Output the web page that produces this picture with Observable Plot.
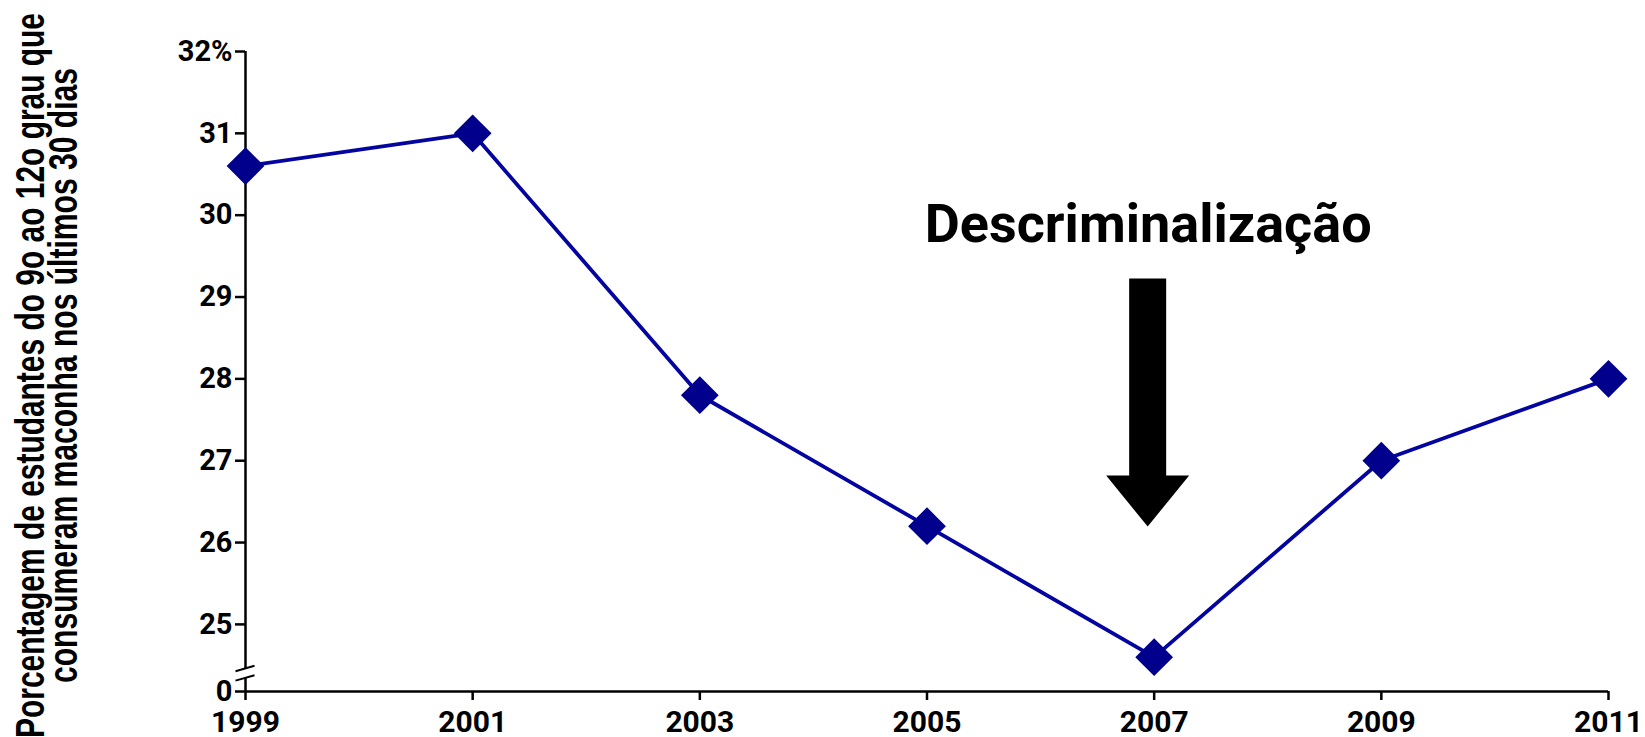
<!DOCTYPE html>
<html><head><meta charset="utf-8">
<script src="https://cdn.jsdelivr.net/npm/d3@7"></script>
<script src="https://cdn.jsdelivr.net/npm/@observablehq/plot@0.6"></script>
<style>
html,body{margin:0;padding:0;background:#fff;overflow:hidden;}
#chart{width:1645px;height:737px;}
</style></head><body><div id="chart"></div>
<script>
// ---- data ----
const years = [1999, 2001, 2003, 2005, 2007, 2009, 2011];
const usePct = [30.6, 31.0, 27.8, 26.2, 24.6, 27.0, 28.0];
const xTickValues = [1999, 2001, 2003, 2005, 2007, 2009, 2011];
const yTickValues = [0, 25, 26, 27, 28, 29, 30, 31, 32];
const yAxisFloor = 24.18;   // value sitting on the x-axis (broken axis, labelled "0")
const yAxisTop = 32;
const breakMarks = [{year: 1999, upper: 24.455, lower: 24.34}];
const annotation = [{year: 2007, label: "Descriminalização", y: 29.67, arrowTop: 29.22, arrowTip: 26.19}];
const yLabelLines = ["Porcentagem de estudantes do 9o ao 12o grau que", "consumeram maconha nos últimos 30 dias"];

const data = years.map((yr, i) => ({year: yr, value: usePct[i]}));
const toAxis = v => v === 0 ? yAxisFloor : v;
const FONT = "Roboto, 'Noto Sans', sans-serif";
const LABEL_FONT = "'Liberation Sans', Arial, sans-serif";

function breakMark(index, scales) {
  const g = d3.create("svg:g");
  for (const b of breakMarks) {
    const cx = scales.x(b.year);
    for (const v of [b.upper, b.lower]) {
      const cy = scales.y(v);
      g.append("line").attr("x1", cx - 9.5).attr("y1", cy + 2.7)
        .attr("x2", cx + 9.5).attr("y2", cy - 2.7)
        .attr("stroke", "black").attr("stroke-width", 2);
    }
  }
  return g.node();
}

function arrowMark(index, scales) {
  const g = d3.create("svg:g");
  for (const a of annotation) {
    const cx = scales.x(a.year) - 6;
    const top = scales.y(a.arrowTop), tip = scales.y(a.arrowTip);
    const headH = 51, shaftW = 18.5, headW = 41.5;
    const p = d3.path();
    p.moveTo(cx - shaftW, top); p.lineTo(cx + shaftW, top);
    p.lineTo(cx + shaftW, tip - headH); p.lineTo(cx + headW, tip - headH);
    p.lineTo(cx, tip); p.lineTo(cx - headW, tip - headH);
    p.lineTo(cx - shaftW, tip - headH); p.closePath();
    g.append("path").attr("d", p.toString()).attr("fill", "black");
  }
  return g.node();
}

const chart = Plot.plot({
  width: 1645,
  height: 737,
  marginLeft: 245,
  marginRight: 37,
  marginTop: 51,
  marginBottom: 46,
  style: {fontFamily: FONT, background: "white"},
  x: {domain: [1999, 2011]},
  y: {domain: [yAxisFloor, yAxisTop]},
  marks: [
    // axis lines
    Plot.ruleY([yAxisFloor], {stroke: "black", strokeWidth: 2.5}),
    Plot.ruleX(breakMarks, {x: "year", y1: "upper", y2: yAxisTop, stroke: "black", strokeWidth: 2.5}),
    Plot.ruleX(breakMarks, {x: "year", y1: yAxisFloor, y2: "lower", stroke: "black", strokeWidth: 2.5}),
    breakMark,
    Plot.axisX(xTickValues, {tickFormat: "d", tickSize: 9, tickPadding: 10, fontSize: 30, fontWeight: "bold", strokeWidth: 2.5, label: null, fill: "black"}),
    Plot.axisY(yTickValues.map(toAxis), {
      tickFormat: d => d === yAxisFloor ? "0" : d === yAxisTop ? d + "%" : String(d),
      tickSize: 10, tickPadding: 3, fontSize: 29, fontWeight: "bold", strokeWidth: 2.5, label: null, fill: "black"
    }),
    // y label (two lines)
    Plot.text([yLabelLines[0]], {text: d => d, frameAnchor: "left", rotate: -90, textAnchor: "middle", lineAnchor: "bottom", dx: -202, dy: 4, fontSize: 40, fontWeight: "bold", fontFamily: LABEL_FONT, fill: "black"}),
    Plot.text([yLabelLines[1]], {text: d => d, frameAnchor: "left", rotate: -90, textAnchor: "middle", lineAnchor: "bottom", dx: -169, dy: 4, fontSize: 40, fontWeight: "bold", fontFamily: LABEL_FONT, fill: "black"}),
    // data
    Plot.line(data, {x: "year", y: "value", stroke: "#0404a0", strokeWidth: 3.8}),
    Plot.dot(data, {x: "year", y: "value", symbol: "diamond2", r: 17, fill: "#00008c", stroke: "none"}),
    // annotation
    Plot.text(annotation, {x: "year", y: "y", text: "label", dx: -6, lineAnchor: "bottom", fontSize: 54, fontWeight: "bold", fill: "black"}),
    arrowMark
  ]
});
document.getElementById("chart").appendChild(chart);

// squeeze the y label to the reference's length
const lengths = [725, 615];
d3.select(chart).selectAll("text").each(function () {
  const idx = yLabelLines.indexOf(this.textContent);
  if (idx >= 0) {
    this.setAttribute("textLength", lengths[idx]);
    this.setAttribute("lengthAdjust", "spacingAndGlyphs");
  }
});
</script>
</body></html>
